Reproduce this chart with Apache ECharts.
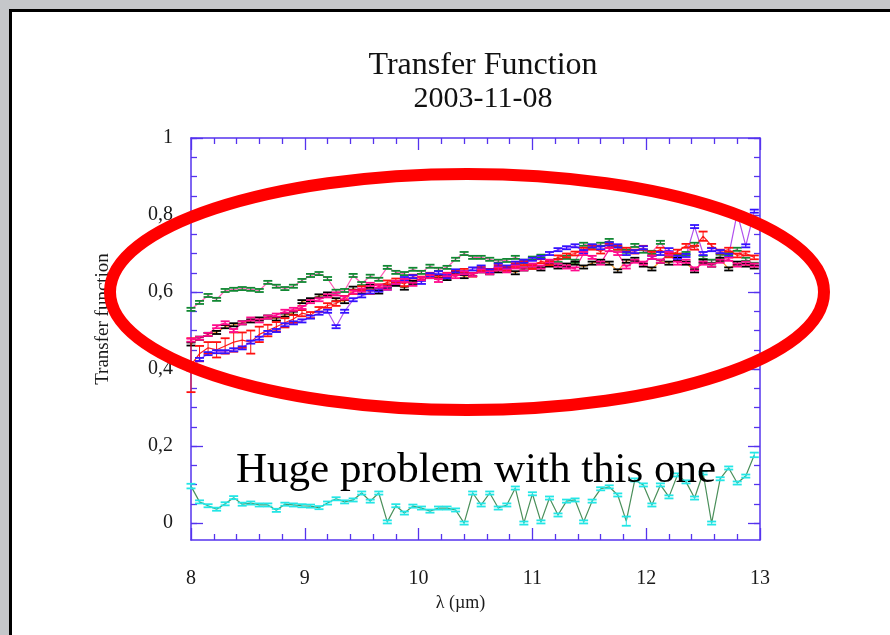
<!DOCTYPE html>
<html>
<head>
<meta charset="utf-8">
<script src="https://cdn.jsdelivr.net/npm/echarts@6/dist/echarts.min.js"></script>
<style>
html,body{margin:0;padding:0;background:#c5c7ca;}
#chart{width:890px;height:635px;}
</style>
</head>
<body>
<div id="chart"></div>
<script>
// wavelength (µm)
var lambda = [8, 8.075, 8.15, 8.225, 8.3, 8.375, 8.45, 8.525, 8.6, 8.675, 8.75, 8.825, 8.9, 8.975, 9.05, 9.125, 9.2, 9.275, 9.35, 9.425, 9.5, 9.575, 9.65, 9.725, 9.8, 9.875, 9.95, 10.025, 10.1, 10.175, 10.25, 10.325, 10.4, 10.475, 10.55, 10.625, 10.7, 10.775, 10.85, 10.925, 11, 11.075, 11.15, 11.225, 11.3, 11.375, 11.45, 11.525, 11.6, 11.675, 11.75, 11.825, 11.9, 11.975, 12.05, 12.125, 12.2, 12.275, 12.35, 12.425, 12.5, 12.575, 12.65, 12.725, 12.8, 12.875, 12.95];

var tfGreen = [0.555, 0.573, 0.591, 0.581, 0.604, 0.607, 0.609, 0.607, 0.604, 0.625, 0.615, 0.609, 0.615, 0.630, 0.643, 0.648, 0.635, 0.602, 0.604, 0.643, 0.622, 0.641, 0.633, 0.664, 0.651, 0.648, 0.659, 0.651, 0.667, 0.659, 0.664, 0.685, 0.700, 0.690, 0.690, 0.685, 0.680, 0.682, 0.690, 0.680, 0.688, 0.693, 0.677, 0.682, 0.690, 0.680, 0.724, 0.719, 0.724, 0.734, 0.714, 0.706, 0.721, 0.706, 0.703, 0.729, 0.698, 0.693, 0.700, 0.724, 0.690, 0.680, 0.693, 0.700, 0.711, 0.685, 0.672];
var tfBlack = [0.465, 0.48, 0.49, 0.495, 0.51, 0.515, 0.52, 0.525, 0.53, 0.535, 0.53, 0.54, 0.545, 0.575, 0.58, 0.59, 0.595, 0.58, 0.575, 0.61, 0.60, 0.615, 0.60, 0.615, 0.62, 0.61, 0.625, 0.635, 0.64, 0.64, 0.635, 0.65, 0.64, 0.645, 0.655, 0.65, 0.655, 0.66, 0.65, 0.66, 0.665, 0.66, 0.67, 0.665, 0.67, 0.675, 0.665, 0.675, 0.68, 0.675, 0.655, 0.68, 0.685, 0.67, 0.66, 0.68, 0.675, 0.685, 0.675, 0.655, 0.68, 0.67, 0.685, 0.66, 0.675, 0.67, 0.665];
var tfRed = [0.41, 0.44, 0.455, 0.45, 0.46, 0.47, 0.475, 0.47, 0.49, 0.50, 0.51, 0.52, 0.53, 0.545, 0.54, 0.555, 0.565, 0.57, 0.585, 0.60, 0.61, 0.60, 0.615, 0.625, 0.63, 0.62, 0.64, 0.635, 0.645, 0.64, 0.645, 0.65, 0.655, 0.645, 0.66, 0.655, 0.665, 0.66, 0.67, 0.675, 0.665, 0.68, 0.675, 0.69, 0.695, 0.70, 0.71, 0.715, 0.705, 0.72, 0.715, 0.71, 0.705, 0.715, 0.70, 0.71, 0.695, 0.705, 0.72, 0.715, 0.745, 0.72, 0.705, 0.71, 0.695, 0.70, 0.69];
var tfBlue = [0.40, 0.425, 0.44, 0.445, 0.445, 0.45, 0.455, 0.47, 0.48, 0.495, 0.50, 0.515, 0.52, 0.525, 0.535, 0.545, 0.55, 0.51, 0.55, 0.58, 0.59, 0.60, 0.605, 0.61, 0.625, 0.635, 0.64, 0.625, 0.645, 0.65, 0.64, 0.655, 0.65, 0.66, 0.665, 0.655, 0.67, 0.665, 0.675, 0.68, 0.685, 0.69, 0.70, 0.71, 0.715, 0.72, 0.705, 0.72, 0.715, 0.725, 0.72, 0.70, 0.705, 0.715, 0.69, 0.70, 0.71, 0.69, 0.695, 0.77, 0.70, 0.71, 0.705, 0.695, 0.805, 0.72, 0.81];
var tfMagenta = [0.475, 0.48, 0.49, 0.51, 0.52, 0.50, 0.52, 0.53, 0.525, 0.535, 0.54, 0.55, 0.555, 0.56, 0.575, 0.58, 0.59, 0.595, 0.585, 0.60, 0.605, 0.62, 0.615, 0.61, 0.625, 0.63, 0.62, 0.635, 0.64, 0.63, 0.645, 0.64, 0.65, 0.645, 0.655, 0.65, 0.66, 0.655, 0.665, 0.66, 0.67, 0.665, 0.68, 0.67, 0.665, 0.66, 0.70, 0.69, 0.675, 0.71, 0.70, 0.665, 0.68, 0.675, 0.69, 0.68, 0.70, 0.675, 0.68, 0.66, 0.675, 0.67, 0.68, 0.685, 0.67, 0.675, 0.67];
var tfCyan = [0.096, 0.055, 0.045, 0.036, 0.05, 0.066, 0.049, 0.052, 0.047, 0.047, 0.033, 0.049, 0.047, 0.045, 0.044, 0.040, 0.052, 0.063, 0.055, 0.060, 0.078, 0.057, 0.078, 0.003, 0.045, 0.026, 0.044, 0.039, 0.031, 0.039, 0.039, 0.034, 0.0, 0.078, 0.047, 0.078, 0.039, 0.047, 0.091, 0.0, 0.076, 0.003, 0.065, 0.021, 0.057, 0.060, 0.003, 0.057, 0.089, 0.094, 0.073, 0.005, 0.112, 0.099, 0.047, 0.099, 0.068, 0.125, 0.107, 0.065, 0.130, 0.0, 0.115, 0.143, 0.104, 0.122, 0.177];

// error half-widths
var errSmall = 0.004;
var errRed = [0.07, 0.02, 0.015, 0.02, 0.02, 0.025, 0.02, 0.03, 0.02, 0.015, 0.012, 0.012, 0.01, 0.008, 0.008, 0.006, 0.006, 0.006, 0.005, 0.005, 0.005, 0.005, 0.005, 0.005, 0.005, 0.005, 0.005, 0.005, 0.005, 0.005, 0.005, 0.005, 0.005, 0.005, 0.005, 0.005, 0.005, 0.005, 0.005, 0.005, 0.005, 0.005, 0.005, 0.005, 0.005, 0.005, 0.005, 0.005, 0.005, 0.005, 0.005, 0.005, 0.005, 0.005, 0.005, 0.005, 0.005, 0.005, 0.005, 0.005, 0.012, 0.005, 0.005, 0.005, 0.005, 0.005, 0.005];
var errCyan = [0.006, 0.004, 0.004, 0.004, 0.004, 0.004, 0.004, 0.004, 0.004, 0.004, 0.004, 0.004, 0.004, 0.004, 0.004, 0.004, 0.004, 0.004, 0.004, 0.004, 0.004, 0.004, 0.004, 0.004, 0.004, 0.004, 0.004, 0.004, 0.004, 0.004, 0.004, 0.004, 0.004, 0.004, 0.004, 0.004, 0.004, 0.004, 0.004, 0.004, 0.004, 0.004, 0.004, 0.004, 0.004, 0.004, 0.004, 0.004, 0.004, 0.004, 0.004, 0.012, 0.004, 0.004, 0.004, 0.004, 0.004, 0.004, 0.004, 0.004, 0.004, 0.004, 0.004, 0.004, 0.004, 0.004, 0.006];

var yTicks = [0, 0.2, 0.4, 0.6, 0.8, 1];
var yMinorTicks = [0, 0.05, 0.1, 0.15, 0.2, 0.25, 0.3, 0.35, 0.4, 0.45, 0.5, 0.55, 0.6, 0.65, 0.7, 0.75, 0.8, 0.85, 0.9, 0.95, 1];

var FONT = 'Liberation Serif';
var AXIS = '#5533ee';
var YMIN = -0.044;

function pairs(vals) { return lambda.map(function (x, i) { return [x, vals[i]]; }); }
function errData(vals, err) {
  return lambda.map(function (x, i) {
    var e = Array.isArray(err) ? err[i] : err;
    return [x, vals[i] - e, vals[i] + e];
  });
}
function errRender(color) {
  return function (params, api) {
    var x = api.value(0);
    var p1 = api.coord([x, api.value(1)]);
    var p2 = api.coord([x, api.value(2)]);
    var w = 4.5;
    return {
      type: 'group',
      children: [
        { type: 'line', shape: { x1: p1[0], y1: p1[1], x2: p2[0], y2: p2[1] }, style: { stroke: color, lineWidth: 1 } },
        { type: 'line', shape: { x1: p1[0] - w, y1: p1[1], x2: p1[0] + w, y2: p1[1] }, style: { stroke: color, lineWidth: 1.8 } },
        { type: 'line', shape: { x1: p2[0] - w, y1: p2[1], x2: p2[0] + w, y2: p2[1] }, style: { stroke: color, lineWidth: 1.8 } }
      ]
    };
  };
}
function lineSeries(name, vals, color) {
  return { name: name, type: 'line', data: pairs(vals), showSymbol: false, symbol: 'none',
    lineStyle: { color: color, width: 1.2 }, itemStyle: { color: color }, z: 3, animation: false };
}
function barSeries(name, vals, err, color) {
  return { name: name + ' err', type: 'custom', data: errData(vals, err), renderItem: errRender(color),
    encode: { x: 0, y: [1, 2] }, z: 4, animation: false };
}

var axisLineStyle = { color: AXIS, width: 1.5 };
var tickStyle = { color: AXIS, width: 1.3 };

var option = {
  backgroundColor: '#c5c7ca',
  animation: false,
  title: {
    text: 'Transfer Function',
    subtext: '2003-11-08',
    left: 478, top: 45, textAlign: 'center', itemGap: 2,
    textStyle: { fontFamily: FONT, fontSize: 32, fontWeight: 'normal', color: '#111' },
    subtextStyle: { fontFamily: FONT, fontSize: 30, color: '#111' }
  },
  grid: { left: 191, right: 130, top: 138, bottom: 95, containLabel: false },
  xAxis: [
    { type: 'value', position: 'bottom', min: 8, max: 13, interval: 1,
      axisLine: { onZero: false, lineStyle: axisLineStyle },
      axisTick: { inside: true, length: 12, lineStyle: tickStyle },
      minorTick: { show: true, splitNumber: 5, length: 6, lineStyle: tickStyle },
      axisLabel: { margin: 29, fontFamily: FONT, fontSize: 20, color: '#1a1a1a' },
      splitLine: { show: false },
      name: 'λ (µm)', nameLocation: 'middle', nameGap: 53,
      nameTextStyle: { fontFamily: FONT, fontSize: 18, color: '#1a1a1a', padding: [0, 30, 0, 0] } },
    { type: 'value', position: 'top', min: 8, max: 13, interval: 1,
      axisLine: { onZero: false, lineStyle: axisLineStyle },
      axisTick: { inside: true, length: 12, lineStyle: tickStyle },
      minorTick: { show: true, splitNumber: 5, length: 6, lineStyle: tickStyle },
      axisLabel: { show: false }, splitLine: { show: false } }
  ],
  yAxis: [
    { type: 'value', position: 'left', min: YMIN, max: 1,
      axisLine: { onZero: false, lineStyle: axisLineStyle },
      axisTick: { inside: true, length: 12, customValues: yTicks, lineStyle: tickStyle },
      axisLabel: { customValues: yTicks, margin: 18, fontFamily: FONT, fontSize: 20, color: '#1a1a1a',
        padding: [4, 0, 0, 0],
        formatter: function (v) { return String(+(+v).toFixed(2)).replace('.', ','); } },
      splitLine: { show: false },
      name: 'Transfer function', nameLocation: 'middle', nameGap: 78, nameRotate: 90,
      nameTextStyle: { fontFamily: FONT, fontSize: 19, color: '#1a1a1a', padding: [0, 0, 0, 40] } },
    { type: 'value', position: 'right', min: YMIN, max: 1,
      axisLine: { onZero: false, lineStyle: axisLineStyle },
      axisTick: { inside: true, length: 12, customValues: yTicks, lineStyle: tickStyle },
      axisLabel: { show: false }, splitLine: { show: false } },
    { type: 'value', position: 'left', min: YMIN, max: 1,
      axisLine: { show: false },
      axisTick: { inside: true, length: 6, customValues: yMinorTicks, lineStyle: tickStyle },
      axisLabel: { show: false }, splitLine: { show: false } },
    { type: 'value', position: 'right', min: YMIN, max: 1,
      axisLine: { show: false },
      axisTick: { inside: true, length: 6, customValues: yMinorTicks, lineStyle: tickStyle },
      axisLabel: { show: false }, splitLine: { show: false } }
  ],
  graphic: [
    { type: 'rect', z: -100, silent: true, shape: { x: 10.5, y: 10.5, width: 900, height: 700 },
      style: { fill: '#ffffff', stroke: '#000000', lineWidth: 3 } },
    { type: 'ellipse', z: 100, silent: true, shape: { cx: 467, cy: 292, rx: 357, ry: 118 },
      style: { fill: 'none', stroke: '#ff0000', lineWidth: 12 } },
    { type: 'text', z: 101, silent: true, left: 236, top: 449,
      style: { text: 'Huge problem with this one', fontFamily: FONT, fontSize: 43, fill: '#000' } }
  ],
  series: [
    lineSeries('cyan', tfCyan, '#4a8f5a'), barSeries('cyan', tfCyan, errCyan, '#22e6e6'),
    lineSeries('green', tfGreen, '#ff5ab4'), barSeries('green', tfGreen, errSmall, '#118833'),
    lineSeries('black', tfBlack, '#ff9a22'), barSeries('black', tfBlack, errSmall, '#000000'),
    lineSeries('red', tfRed, '#ff2020'), barSeries('red', tfRed, errRed, '#ff1010'),
    lineSeries('blue', tfBlue, '#b050ee'), barSeries('blue', tfBlue, errSmall, '#3311ff'),
    lineSeries('magenta', tfMagenta, '#ff1493'), barSeries('magenta', tfMagenta, errSmall, '#ff0a8c')
  ]
};

var chart = echarts.init(document.getElementById('chart'), null, { renderer: 'canvas' });
chart.setOption(option);
</script>
</body>
</html>
